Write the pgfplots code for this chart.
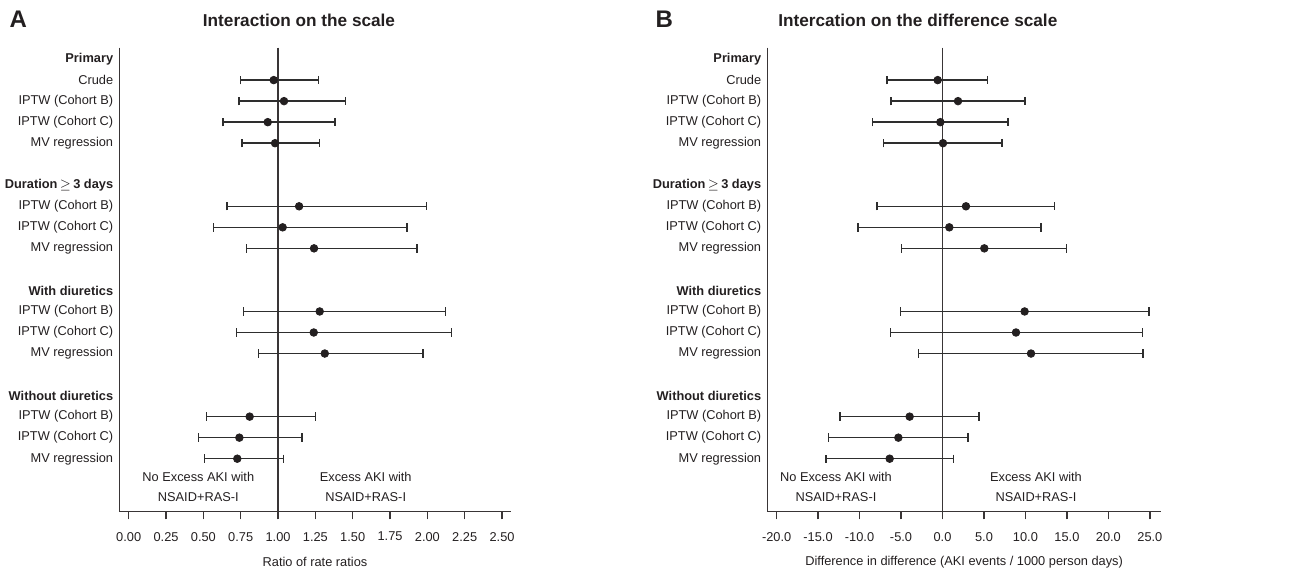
\documentclass[border=0pt]{standalone}
\usepackage{fontspec}
\setmainfont{Liberation Sans}
\usepackage{pgfplots}
\pgfplotsset{compat=1.18}
\usepackage{pgfplotstable}

\definecolor{ink}{HTML}{231F20}
\definecolor{bar}{HTML}{2E2E2E}

% row, estimate, lower, upper
\pgfplotstableread{
r m lo hi
1 0.971 0.750 1.270
2 1.040 0.739 1.451
3 0.931 0.630 1.380
4 0.980 0.759 1.279
7 1.141 0.658 1.993
8 1.031 0.569 1.864
9 1.241 0.788 1.931
12 1.279 0.770 2.123
13 1.239 0.721 2.163
14 1.313 0.868 1.971
17 0.810 0.522 1.250
18 0.741 0.469 1.161
19 0.727 0.509 1.038
}\ratiodata

\pgfplotstableread{
r m lo hi
1 -0.58 -6.69 5.40
2 1.87 -6.21 9.94
3 -0.26 -8.46 7.90
4 0.06 -7.13 7.17
7 2.83 -7.89 13.52
8 0.82 -10.18 11.87
9 5.04 -4.92 14.97
12 9.90 -5.04 24.89
13 8.86 -6.29 24.09
14 10.67 -2.87 24.17
17 -3.96 -12.35 4.40
18 -5.32 -13.72 3.07
19 -6.37 -14.04 1.35
}\diffdata

\pgfplotsset{
  forest/.style={
    scale only axis, height=232pt,
    font=\fontsize{6.4}{7.7}\selectfont,
    axis x line*=bottom, axis y line*=left,
    axis line style={ink!90, line width=0.75pt, -},
    y dir=reverse, ymin=-0.54, ymax=21.52,
    ytick={0,...,19},
    yticklabels={\textbf{Primary},Crude,IPTW (Cohort B),IPTW (Cohort C),MV regression,{},
      \textbf{Duration\,$\geq$\,3 days},IPTW (Cohort B),IPTW (Cohort C),MV regression,{},
      \textbf{With diuretics},IPTW (Cohort B),IPTW (Cohort C),MV regression,{},
      \textbf{Without diuretics},IPTW (Cohort B),IPTW (Cohort C),MV regression},
    ytick style={draw=none},
    tick align=outside, major tick length=3.85pt,
    xtick style={ink!90, line width=0.65pt},
    yticklabel style={xshift=4.3pt, text=ink},
    xticklabel style={yshift=-2.8pt, text=ink},
    xlabel style={at={(axis description cs:0.5,0)}, anchor=center, yshift=-25pt, text=ink},
    /pgf/number format/assume math mode=true,
    clip=false,
  },
  ci/.style={only marks, mark=*, mark size=1.9pt, ink,
    error bars/.cd, x dir=both, x explicit,
    error bar style={line width=0.75pt, bar},
    error mark options={rotate=90, mark size=2.1pt, line width=0.75pt, bar}},
}

\begin{document}
\begin{tikzpicture}
\path[use as bounding box] (0,0) rectangle (646pt,-285.5pt);

\node[font=\fontsize{12}{14}\selectfont\bfseries, text=ink] at (9.2pt,-9.8pt) {A};
\node[font=\fontsize{8.6}{10}\selectfont\bfseries, text=ink] at (149.5pt,-10.3pt) {Interaction on the scale};
\node[font=\fontsize{12}{14}\selectfont\bfseries, text=ink] at (332.2pt,-9.8pt) {B};
\node[font=\fontsize{8.6}{10}\selectfont\bfseries, text=ink] at (458.9pt,-10.3pt) {Intercation on the difference scale};

\begin{axis}[forest, at={(59.65pt,-255.85pt)}, anchor=south west, width=195.7pt,
    xmin=-0.063, xmax=2.558,
    xtick={0,0.25,...,2.5},
    xticklabel style={/pgf/number format/.cd, fixed, fixed zerofill, precision=2},
    xlabel={Ratio of rate ratios}]
\addplot[ink!90, line width=0.75pt] coordinates {(1,-0.54) (1,21.52)};
\addplot[ci] table[x=m, y=r, x error plus expr=\thisrow{hi}-\thisrow{m},
    x error minus expr=\thisrow{m}-\thisrow{lo}] {\ratiodata};
\node[align=center, text=ink, font=\fontsize{6.4}{10}\selectfont] at (axis cs:0.466,20.33) {No Excess AKI with\\NSAID+RAS-I};
\node[align=center, text=ink, font=\fontsize{6.4}{10}\selectfont] at (axis cs:1.587,20.33) {Excess AKI with\\NSAID+RAS-I};
\end{axis}

\begin{axis}[forest, at={(383.65pt,-255.85pt)}, anchor=south west, width=196.85pt,
    xmin=-21.12, xmax=26.34,
    xtick={-20,-15,...,25},
    xticklabel style={/pgf/number format/.cd, fixed, fixed zerofill, precision=1},
    xlabel={Difference in difference (AKI events / 1000 person days)}]
\addplot[ink!90, line width=0.75pt] coordinates {(0,-0.54) (0,21.52)};
\addplot[ci] table[x=m, y=r, x error plus expr=\thisrow{hi}-\thisrow{m},
    x error minus expr=\thisrow{m}-\thisrow{lo}] {\diffdata};
\node[align=center, text=ink, font=\fontsize{6.4}{10}\selectfont] at (axis cs:-12.84,20.33) {No Excess AKI with\\NSAID+RAS-I};
\node[align=center, text=ink, font=\fontsize{6.4}{10}\selectfont] at (axis cs:11.27,20.33) {Excess AKI with\\NSAID+RAS-I};
\end{axis}
\end{tikzpicture}
\end{document}
